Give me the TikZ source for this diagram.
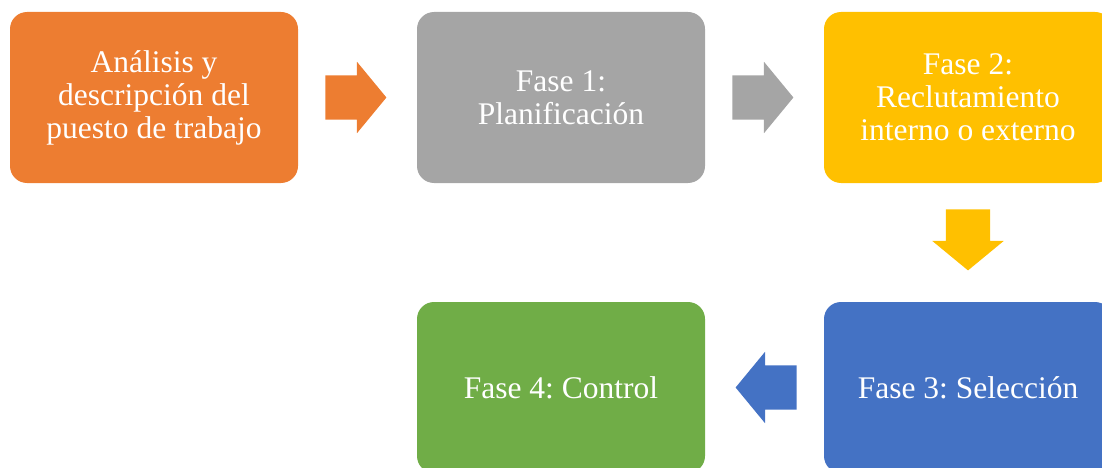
\documentclass[tikz,border=0pt]{standalone}
\usepackage{fontspec}
\setmainfont{Liberation Serif}
\usepackage{xcolor}
\usetikzlibrary{positioning, calc, shapes.arrows}
\frenchspacing

\definecolor{naranja}{HTML}{ED7D31}
\definecolor{gris}{HTML}{A5A5A5}
\definecolor{amarillo}{HTML}{FFC000}
\definecolor{azul}{HTML}{4472C4}
\definecolor{verde}{HTML}{70AD47}

\begin{document}
\begin{tikzpicture}[x=1pt,y=-1pt]
	\tikzstyle{fase}=[rectangle,rounded corners=17pt,minimum width=288pt,minimum height=171pt,
		text=white,align=center,font=\fontsize{31.5}{33}\selectfont,inner sep=0pt]
	\tikzstyle{flecha}=[single arrow,anchor=tail,inner xsep=0pt,inner ysep=22pt,minimum height=61pt,
		single arrow head extend=13.5pt,single arrow tip angle=101]
	\useasboundingbox (0,0) rectangle (1102,468);
	\clip (0,0) rectangle (1102,468);
	\node[fase,fill=naranja](f0) at (154,97.5){An\'alisis y\\descripci\'on del\\puesto de trabajo};
	\node[fase,fill=gris](f1) at (561,97.5){Fase 1:\\Planificaci\'on};
	\node[fase,fill=amarillo](f2) at (968,97.5){Fase 2:\\Reclutamiento\\interno o externo};
	\node[fase,fill=azul](f3) at (968,387.5){Fase 3: Selecci\'on};
	\node[fase,fill=verde](f4) at (561,387.5){Fase 4: Control};
	\node[flecha,fill=naranja](a1) at ($(f0.east)+(27,0)$){};
	\node[flecha,fill=gris](a2) at ($(f1.east)+(27,0)$){};
	\node[flecha,fill=amarillo,shape border rotate=270,inner xsep=22pt,inner ysep=0pt](a3) at ($(f2.south)+(0,26)$){};
	\node[flecha,fill=azul,shape border rotate=180](a4) at ($(f3.west)+(-27,0)$){};
\end{tikzpicture}
\end{document}
